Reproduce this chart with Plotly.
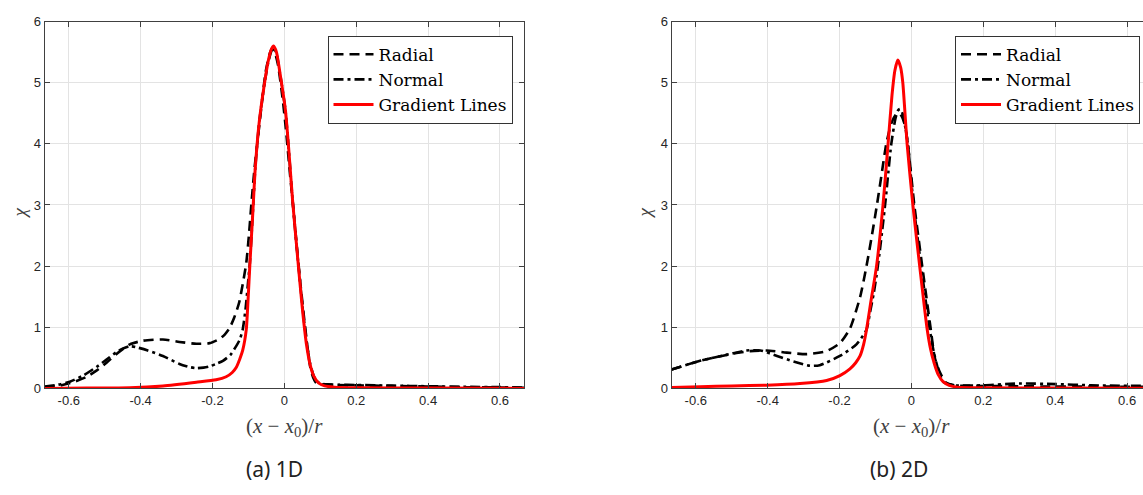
import plotly.graph_objects as go

# ---------------- data ----------------
# (a) 1D
radial_1d_x = [-0.667, -0.62, -0.588, -0.55, -0.523, -0.495, -0.468, -0.43, -0.393, -0.338, -0.292,
               -0.245, -0.208, -0.18, -0.166, -0.153, -0.14, -0.126, -0.116, -0.106, -0.098, -0.091,
               -0.083, -0.076, -0.064, -0.052, -0.042, -0.035, -0.028, -0.018, -0.005, 0.005, 0.015,
               0.025, 0.035, 0.045, 0.055, 0.065, 0.072, 0.08, 0.087, 0.095, 0.105, 0.12, 0.15, 0.2,
               0.3, 0.4, 0.5, 0.6, 0.667]
radial_1d_y = [0.01, 0.05, 0.10, 0.19, 0.29, 0.42, 0.56, 0.72, 0.78, 0.80, 0.76,
               0.73, 0.74, 0.81, 0.88, 0.98, 1.15, 1.40, 1.70, 2.05, 2.55, 3.07,
               3.60, 3.97, 4.60, 5.18, 5.45, 5.55, 5.52, 5.30, 4.75, 4.20, 3.55,
               2.95, 2.30, 1.70, 1.15, 0.65, 0.35, 0.18, 0.10, 0.08, 0.07, 0.06, 0.055, 0.05,
               0.04, 0.03, 0.02, 0.015, 0.01]

normal_1d_x = [-0.667, -0.63, -0.597, -0.56, -0.523, -0.495, -0.468, -0.45, -0.43, -0.41, -0.38,
               -0.338, -0.292, -0.265, -0.245, -0.225, -0.208, -0.19, -0.171, -0.15, -0.134, -0.124,
               -0.116, -0.108, -0.1, -0.096, -0.088, -0.081, -0.07, -0.057, -0.045, -0.036, -0.03,
               -0.022, -0.012, 0.003, 0.013, 0.023, 0.033, 0.043, 0.052, 0.062, 0.072, 0.082, 0.09,
               0.1, 0.12, 0.15, 0.2, 0.3, 0.4, 0.5, 0.6, 0.667]
normal_1d_y = [0.03, 0.06, 0.11, 0.21, 0.35, 0.47, 0.59, 0.65, 0.69, 0.67, 0.62,
               0.53, 0.40, 0.35, 0.33, 0.34, 0.36, 0.40, 0.45, 0.55, 0.69, 0.80,
               0.96, 1.30, 1.80, 2.05, 2.85, 3.60, 4.35, 4.92, 5.33, 5.52, 5.57,
               5.48, 5.15, 4.55, 3.85, 3.07, 2.40, 1.78, 1.25, 0.75, 0.40, 0.20, 0.12,
               0.08, 0.065, 0.06, 0.055, 0.045, 0.035, 0.025, 0.02, 0.015]

grad_1d_x = [-0.667, -0.55, -0.43, -0.338, -0.245, -0.19, -0.162, -0.145, -0.134, -0.124, -0.116,
             -0.106, -0.101, -0.096, -0.088, -0.081, -0.07, -0.057, -0.045, -0.036, -0.03, -0.022,
             -0.012, 0.003, 0.013, 0.023, 0.033, 0.043, 0.052, 0.062, 0.072, 0.082, 0.095, 0.112,
             0.14, 0.2, 0.4, 0.667]
grad_1d_y = [0.0, 0.005, 0.01, 0.04, 0.10, 0.14, 0.19, 0.26, 0.34, 0.48, 0.62,
             0.96, 1.45, 2.02, 2.85, 3.60, 4.35, 4.92, 5.35, 5.55, 5.60, 5.50,
             5.15, 4.55, 3.85, 3.07, 2.40, 1.75, 1.20, 0.70, 0.38, 0.20, 0.09, 0.04,
             0.02, 0.01, 0.005, 0.0]

# (b) 2D
radial_2d_x = [-0.667, -0.588, -0.495, -0.449, -0.403, -0.347, -0.291, -0.236, -0.199, -0.171,
               -0.143, -0.125, -0.11, -0.096, -0.083, -0.07, -0.055, -0.043, -0.035, -0.027,
               -0.018, -0.01, 0.008, 0.03, 0.053, 0.065, 0.078, 0.095, 0.12, 0.2, 0.3, 0.4,
               0.5, 0.667]
radial_2d_y = [0.31, 0.45, 0.57, 0.61, 0.62, 0.585, 0.56, 0.61, 0.74, 0.98,
               1.49, 2.00, 2.50, 3.00, 3.50, 4.00, 4.35, 4.48, 4.50, 4.45,
               4.30, 4.00, 3.00, 2.00, 1.00, 0.50, 0.28, 0.10, 0.05, 0.04, 0.035, 0.03,
               0.03, 0.025]

normal_2d_x = [-0.667, -0.588, -0.5, -0.459, -0.42, -0.374, -0.328, -0.282, -0.255, -0.199,
               -0.153, -0.125, -0.115, -0.105, -0.097, -0.089, -0.08, -0.072, -0.064, -0.056,
               -0.045, -0.038, -0.032, -0.025, -0.018, -0.01, 0.006, 0.027, 0.05, 0.062, 0.075,
               0.09, 0.12, 0.2, 0.3, 0.4, 0.5, 0.667]
normal_2d_y = [0.31, 0.45, 0.57, 0.62, 0.62, 0.53, 0.44, 0.37, 0.38, 0.53,
               0.72, 0.96, 1.25, 1.55, 1.85, 2.20, 2.65, 3.07, 3.55, 4.00,
               4.40, 4.54, 4.57, 4.50, 4.30, 4.00, 3.00, 2.00, 1.00, 0.60, 0.30,
               0.10, 0.05, 0.05, 0.08, 0.07, 0.05, 0.04]

grad_2d_x = [-0.667, -0.588, -0.5, -0.403, -0.31, -0.236, -0.199, -0.171, -0.155, -0.143,
             -0.133, -0.125, -0.112, -0.097, -0.079, -0.065, -0.054, -0.046, -0.038, -0.03,
             -0.024, -0.012, 0.004, 0.023, 0.043, 0.053, 0.063, 0.075, 0.088, 0.105, 0.128,
             0.2, 0.4, 0.667]
grad_2d_y = [0.015, 0.027, 0.04, 0.053, 0.08, 0.13, 0.21, 0.32, 0.42, 0.53,
             0.72, 0.96, 1.45, 2.00, 3.00, 4.00, 4.80, 5.20, 5.37, 5.25,
             5.00, 4.00, 3.00, 2.00, 1.00, 0.65, 0.42, 0.22, 0.11, 0.05, 0.02,
             0.01, 0.005, 0.003]

series_names = ["Radial", "Normal", "Gradient Lines"]
x_ticks = [-0.6, -0.4, -0.2, 0, 0.2, 0.4, 0.6]
x_tick_labels = ["-0.6", "-0.4", "-0.2", "0", "0.2", "0.4", "0.6"]
y_ticks = [0, 1, 2, 3, 4, 5, 6]
captions = ["(a) 1D", "(b) 2D"]

# ---------------- figure ----------------
W, H = 1143, 495
fig = go.Figure()

RADIAL_STYLE = dict(color="black", width=2.6, dash="10px,6px")
NORMAL_STYLE = dict(color="black", width=2.6, dash="10px,4px,3px,4px")
GRAD_STYLE = dict(color="#ff0000", width=3)

panels = [
    ("x", "y", "legend", (radial_1d_x, radial_1d_y), (normal_1d_x, normal_1d_y), (grad_1d_x, grad_1d_y)),
    ("x2", "y2", "legend2", (radial_2d_x, radial_2d_y), (normal_2d_x, normal_2d_y), (grad_2d_x, grad_2d_y)),
]
for xa, ya, lg, rad, nor, gra in panels:
    for (xs, ys), name, st in zip([rad, nor, gra], series_names, [RADIAL_STYLE, NORMAL_STYLE, GRAD_STYLE]):
        fig.add_trace(go.Scatter(x=xs, y=ys, mode="lines", name=name,
                                 line=dict(shape="spline", smoothing=0.6, **st),
                                 xaxis=xa, yaxis=ya, legend=lg, showlegend=True))

# pixel geometry
x1_l, x1_r = 44.7, 524.0
x2_l = 671.7
y_top, y_bot = 15.0, 393.3
px_per_unit = (x1_r - x1_l) / (0.667 * 2)
x2_zero = 911.5
x2_max = (W - x2_zero) / px_per_unit

AX_COLOR = "#404040"
GRID = "#e3e3e3"
tickfont = dict(family="Liberation Sans, Arial", size=13, color="#262626")

common_x = dict(tickvals=x_ticks, ticktext=x_tick_labels, showgrid=True, gridcolor=GRID, gridwidth=1,
                showline=True, linecolor=AX_COLOR, linewidth=1, ticks="inside", ticklen=5,
                tickcolor=AX_COLOR, tickfont=tickfont, zeroline=False, fixedrange=True)
common_y = dict(tickvals=y_ticks, range=[0, 6], showgrid=True, gridcolor=GRID, gridwidth=1,
                showline=True, linecolor=AX_COLOR, linewidth=1, ticks="inside", ticklen=5,
                tickcolor=AX_COLOR, tickfont=tickfont, zeroline=False, fixedrange=True)

legend_font = dict(family="DejaVu Serif, serif", size=17, color="black")
ydom = [(H - y_bot) / H, (H - y_top) / H]
fig.update_layout(
    width=W, height=H, margin=dict(l=0, r=0, t=0, b=0),
    paper_bgcolor="white", plot_bgcolor="white",
    xaxis=dict(domain=[x1_l / W, x1_r / W], range=[-0.667, 0.667], mirror="ticks", anchor="y", **common_x),
    yaxis=dict(domain=ydom, mirror="ticks", anchor="x", **common_y),
    xaxis2=dict(domain=[x2_l / W, 1.0], range=[-0.667, x2_max], mirror="ticks", anchor="y2", **common_x),
    yaxis2=dict(domain=ydom, mirror=False, anchor="x2", **common_y),
    legend=dict(x=512.5 / W, y=1 - 29.6 / H, xanchor="right", yanchor="top",
                bgcolor="white", bordercolor="#333333", borderwidth=1,
                font=legend_font, tracegroupgap=0, itemwidth=40),
    legend2=dict(x=1140 / W, y=1 - 29.6 / H, xanchor="right", yanchor="top",
                 bgcolor="white", bordercolor="#333333", borderwidth=1,
                 font=legend_font, tracegroupgap=0, itemwidth=40),
    showlegend=True,
)

xtitle = "(<i>x</i> − <i>x</i><sub>0</sub>)/<i>r</i>"
anns = []
for cx in [(x1_l + x1_r) / 2, x2_zero]:
    anns.append(dict(text=xtitle, x=cx / W, y=1 - 433 / H, xref="paper", yref="paper",
                     xanchor="center", yanchor="middle", showarrow=False,
                     font=dict(family="Liberation Serif, serif", size=21, color="#404040")))
for cx in [20, 645]:
    anns.append(dict(text="<i>χ</i>", x=cx / W, y=1 - 213 / H, xref="paper", yref="paper",
                     xanchor="center", yanchor="middle", showarrow=False, textangle=-90,
                     font=dict(family="Liberation Serif, serif", size=19, color="#404040")))
for cx, cap in zip([274, 899], captions):
    anns.append(dict(text=cap, x=cx / W, y=1 - 476 / H, xref="paper", yref="paper",
                     xanchor="center", yanchor="middle", showarrow=False,
                     font=dict(family="Noto Sans, sans-serif", size=21, color="#222222")))
fig.update_layout(annotations=anns)

fig.write_html("out.html", config={"displayModeBar": False})
